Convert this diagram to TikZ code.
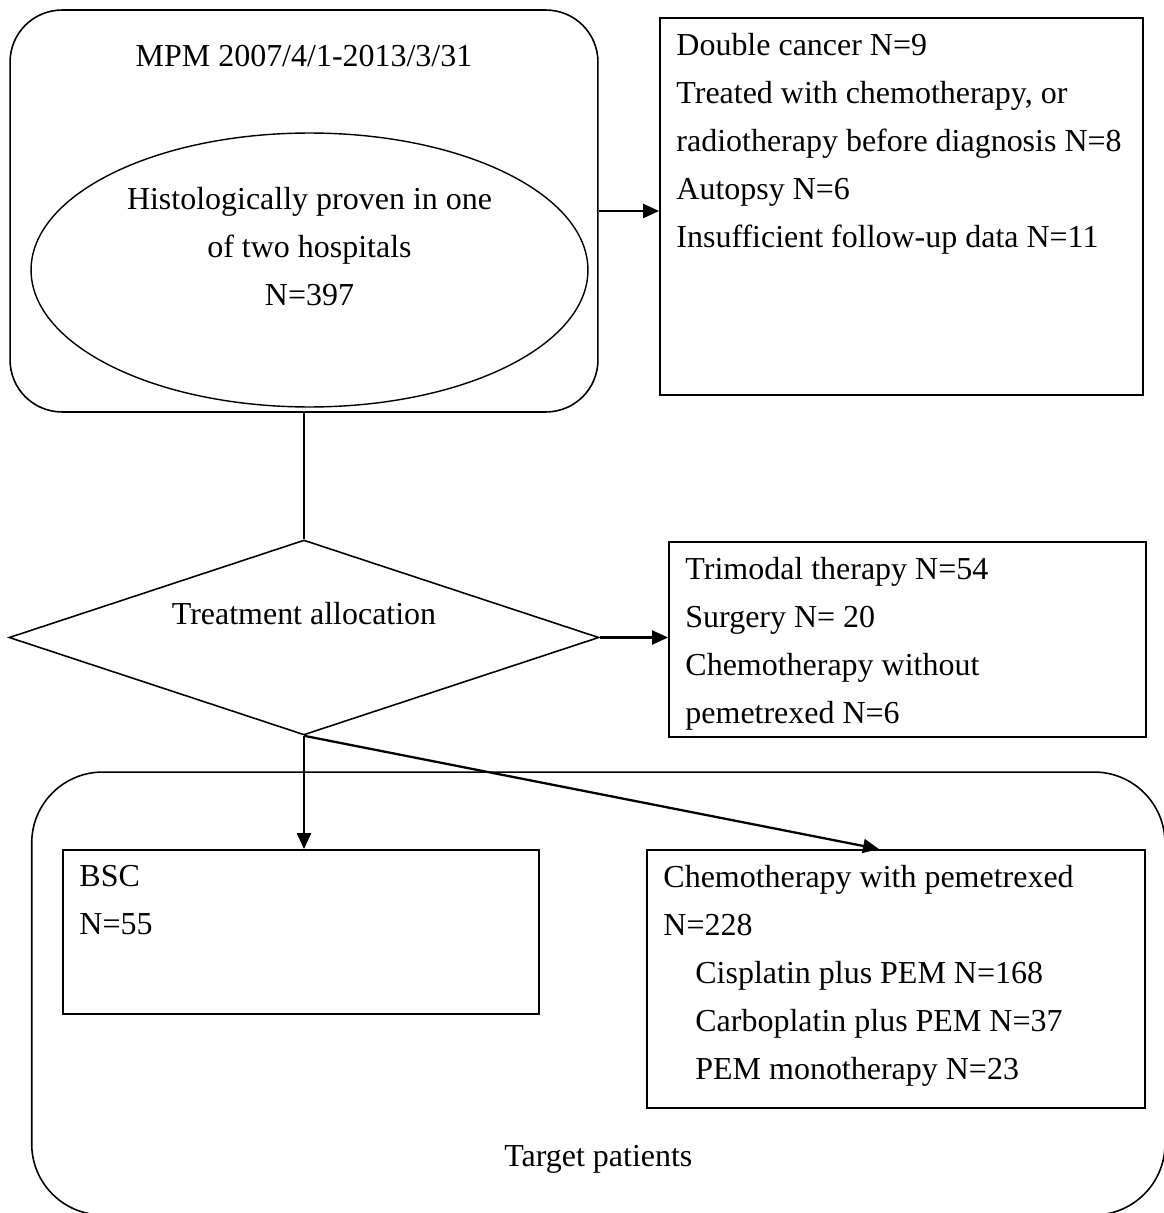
\documentclass[tikz,border=0pt]{standalone}
\usepackage{fontspec}
\setmainfont{Liberation Serif}
\usetikzlibrary{positioning,arrows.meta,shapes.geometric}

\begin{document}
\begin{tikzpicture}[
  x=0.02cm, y=-0.02cm,
  >={Triangle[length=0.32cm,width=0.28cm]},
  font=\fontsize{18.2}{27.3}\selectfont,
  cohort/.style={draw, line width=0.9pt, rounded corners=1.04cm, minimum width=11.76cm, minimum height=8.04cm},
  oval/.style={draw, ellipse, line width=0.8pt, minimum width=11.14cm, minimum height=5.48cm},
  decide/.style={draw, diamond, line width=0.9pt, inner sep=0pt, minimum width=11.8cm, minimum height=3.9cm},
  target/.style={draw, line width=0.9pt, rounded corners=1.42cm, minimum width=22.67cm, minimum height=8.86cm},
  listbox/.style={draw, line width=1.1pt, inner sep=0pt},
  arrow/.style={->, line width=1.3pt},
  lbl/.style={inner sep=0pt, align=left, anchor=north west},
  ctr/.style={inner sep=0pt, align=center}
]
\useasboundingbox (0,0) rectangle (1163,1213);

% Study period and cohort
\node[cohort] (mpm) at (304,211) {};
\node[ctr, below=0.72cm of mpm.north] (mpmtxt) {MPM 2007/4/1-2013/3/31};
\node[oval] (hist) at (309.5,270) {};
\node[ctr, below=1.1cm of hist.north] (histtxt) {Histologically proven in one\\of two hospitals\\N=397};

% Excluded cases
\node[listbox, minimum width=9.66cm, minimum height=7.54cm] (excl) at (901.5,206.5) {};
\node[lbl, below right=0.32cm and 0.34cm of excl.north west] (excltxt) {%
  Double cancer N=9\\
  Treated with chemotherapy, or\\
  radiotherapy before diagnosis N=8\\
  Autopsy N=6\\
  Insufficient follow-up data N=11
};

% Treatment allocation
\node[decide] (alloc) at (304,637.5) {};
\node[ctr, below=1.26cm of alloc.north] (alloctxt) {Treatment allocation};

% Other treatments
\node[listbox, minimum width=9.54cm, minimum height=3.9cm] (tri) at (907.5,639.5) {};
\node[lbl, below right=0.32cm and 0.34cm of tri.north west] (tritxt) {%
  Trimodal therapy N=54\\
  Surgery N= 20\\
  Chemotherapy without\\
  pemetrexed N=6
};

% Target patients
\node[target] (target) at (598.35,993.5) {};
\node[ctr, below=7.48cm of target.north] (targettxt) {Target patients};

\node[listbox, minimum width=9.52cm, minimum height=3.28cm] (bsc) at (301,932) {};
\node[lbl, below right=0.32cm and 0.34cm of bsc.north west] (bsctxt) {BSC\\N=55};

\node[listbox, minimum width=9.96cm, minimum height=5.16cm] (chemo) at (896,979) {};
\node[lbl, below right=0.32cm and 0.34cm of chemo.north west] (chemotxt) {%
  Chemotherapy with pemetrexed\\
  N=228\\
  \quad Cisplatin plus PEM N=168\\
  \quad Carboplatin plus PEM N=37\\
  \quad PEM monotherapy N=23
};

% Connectors
\draw[line width=0.9pt] (mpm.south) -- (alloc.north);
\draw[arrow] (mpm.east) -- (mpm.east -| excl.west);
\draw[arrow] (alloc.east) -- (alloc.east -| tri.west);
\draw[arrow] (alloc.south) -- (alloc.south |- bsc.north);
\draw[arrow] (alloc.south) -- ([xshift=-0.34cm]chemo.north);

\end{tikzpicture}
\end{document}
